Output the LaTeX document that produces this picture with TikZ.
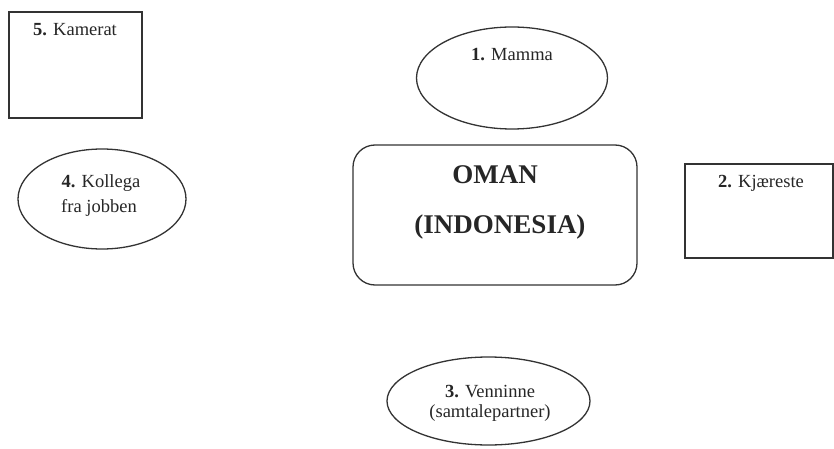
\documentclass[tikz,border=0pt]{standalone}
\usepackage{fontspec}
\setmainfont{Liberation Serif}
\usetikzlibrary{shapes.geometric}
\begin{document}
\begin{tikzpicture}[x=1pt,y=-1pt,
  line/.style={draw=black!80, line width=1.3pt},
  oval/.style={line, ellipse, inner sep=0pt},
  sq/.style={line, rectangle, inner sep=0pt},
  lbl/.style={font=\fontsize{18.5}{20}\selectfont, text=black!85, anchor=base, inner sep=0pt},
  big/.style={font=\fontsize{27}{30}\selectfont\bfseries, text=black!85, anchor=base, inner sep=0pt}]
\useasboundingbox[fill=white] (0,0) rectangle (834,449);
% outlines
\node[sq, minimum width=133pt, minimum height=106pt] (box5) at (75.5,65) {};
\node[oval, minimum width=168pt, minimum height=100pt] (ov4) at (102,199) {};
\node[oval, minimum width=191pt, minimum height=102pt] (ov1) at (512,78) {};
\node[line, rectangle, rounded corners=22pt, minimum width=284pt, minimum height=140pt] (centre) at (495,215) {};
\node[sq, minimum width=148pt, minimum height=94pt] (box2) at (759,211) {};
\node[oval, minimum width=203pt, minimum height=88pt] (ov3) at (488.5,401) {};
% labels
\node[lbl] (kamerat) at (75,36) {\textbf{5.} Kamerat};
\node[lbl] (kollegaA) at (101,187) {\textbf{4.} Kollega};
\node[lbl] (kollegaB) at (99,212) {fra jobben};
\node[lbl] (mamma) at (512,61) {\textbf{1.} Mamma};
\node[big] (oman) at (495,183) {OMAN};
\node[big] (indonesia) at (500,233) {(INDONESIA)};
\node[lbl] (kjaereste) at (761,187) {\textbf{2.} Kjæreste};
\node[lbl] (venninneA) at (490,397) {\textbf{3.} Venninne};
\node[lbl] (venninneB) at (490,417) {(samtalepartner)};
\end{tikzpicture}
\end{document}
